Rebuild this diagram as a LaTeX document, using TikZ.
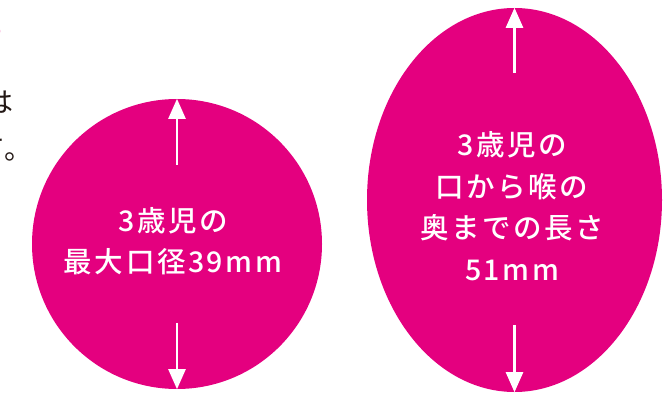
\documentclass[tikz,border=0pt]{standalone}
\usepackage{fontspec}
\usetikzlibrary{arrows.meta,shapes.geometric}
\newfontfamily\jpfont[LetterSpace=9]{Noto Sans CJK JP Medium}
\newfontfamily\jpbody{Noto Sans CJK JP}
\definecolor{mouthPink}{RGB}{228,0,127}
\definecolor{bodyText}{RGB}{35,24,21}
\tikzset{
    every node/.append style={align=center},
    blob/.style={fill=mouthPink,draw=none,inner sep=0pt},
    inlbl/.style={text=white,font=\jpfont\fontsize{28.5}{41.5}\selectfont},
    dimarr/.style={-{Triangle[length=20pt,width=17pt]},line width=2.5pt,draw=white},
    cuttext/.style={font=\jpbody\fontsize{28}{40}\selectfont,inner sep=0pt,anchor=east}
}

\begin{document}
\begin{tikzpicture}[x=1pt,y=-1pt]
    \useasboundingbox (0,0) rectangle (664,395);
    \clip (0,0) rectangle (664,395);

    % text running in from the left page edge
    \node[cuttext,text=mouthPink] (headtail) at (4,23) {に};
    \node[cuttext,text=bodyText] (bodyone) at (14,102) {は};
    \node[cuttext,text=bodyText] (bodytwo) at (33,150) {て。};

    % opening of the mouth
    \node[blob,circle,minimum size=290pt] (mouth) at (177,244) {};
    \node[inlbl] (mouthlbl) at (173,241) {3歳児の\\最大口径39mm};
    \coordinate (mouthtop) at (177,165);
    \coordinate (mouthbot) at (177,323);
    \draw[dimarr] (mouthtop) -- (mouth.north);
    \draw[dimarr] (mouthbot) -- (mouth.south);

    % depth from mouth to throat
    \node[blob,ellipse,minimum width=295pt,minimum height=384pt] (throat) at (514.5,200) {};
    \node[inlbl] (throatlbl) at (512,206) {3歳児の\\口から喉の\\奥までの長さ\\51mm};
    \coordinate (throattop) at (514.5,73);
    \coordinate (throatbot) at (514.5,325);
    \draw[dimarr] (throattop) -- (throat.north);
    \draw[dimarr] (throatbot) -- (throat.south);
\end{tikzpicture}
\end{document}
